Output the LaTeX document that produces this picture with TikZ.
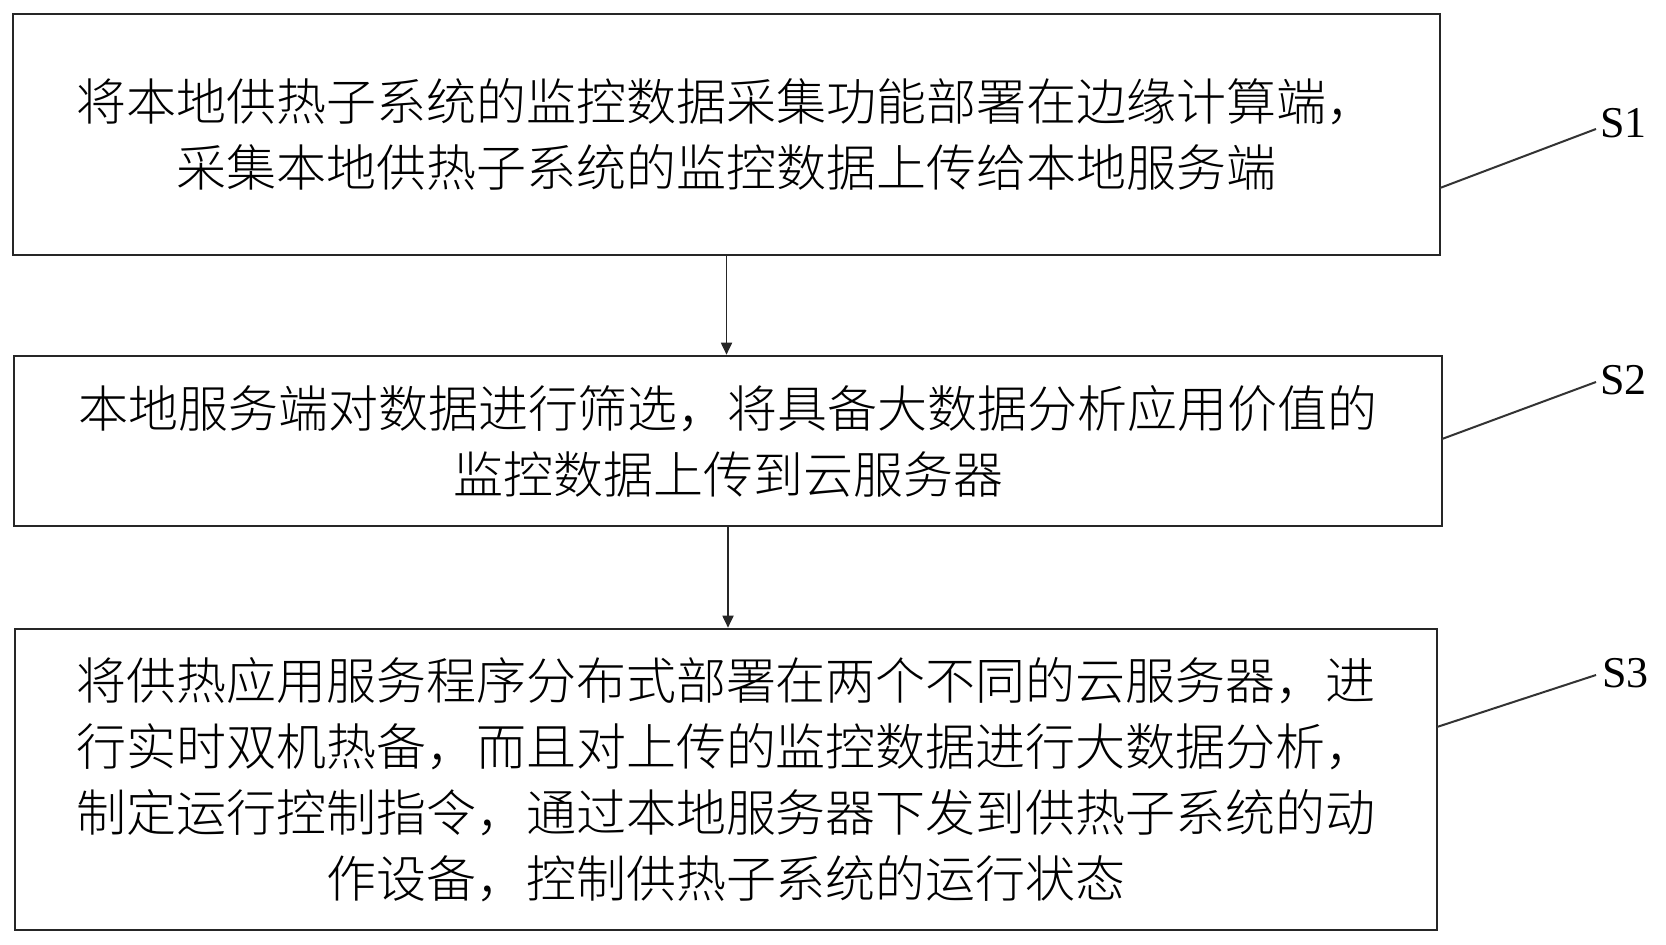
\documentclass[tikz,border=0pt]{standalone}
\usepackage{fontspec}
\setmainfont{Liberation Serif}
\newfontfamily\cjk{Noto Sans CJK SC Light}
\usetikzlibrary{arrows.meta}
\begin{document}
\begin{tikzpicture}[x=0.5pt,y=-0.5pt,
  stepbox/.style={draw=black!85,line width=1.3pt,inner sep=0pt,align=center,
    font=\cjk\fontsize{25}{33}\selectfont},
  leader/.style={draw=black!80,line width=1pt},
  flow/.style={draw=black!85,line width=0.9pt,-{Triangle[length=6pt,width=5.5pt]}},
  slabel/.style={anchor=west,inner sep=0pt,font=\fontsize{22}{24}\selectfont}]
\useasboundingbox[fill=white] (0,0) rectangle (1666,945);
\node[stepbox,minimum width=713.5pt,minimum height=120.5pt] (b1) at (726.5,134.5)
  {将本地供热子系统的监控数据采集功能部署在边缘计算端，\\采集本地供热子系统的监控数据上传给本地服务端};
\node[stepbox,minimum width=714pt,minimum height=85pt] (b2) at (728,441)
  {本地服务端对数据进行筛选，将具备大数据分析应用价值的\\监控数据上传到云服务器};
\node[stepbox,minimum width=711pt,minimum height=150.5pt] (b3) at (726,779.5)
  {将供热应用服务程序分布式部署在两个不同的云服务器，进\\行实时双机热备，而且对上传的监控数据进行大数据分析，\\制定运行控制指令，通过本地服务器下发到供热子系统的动\\作设备，控制供热子系统的运行状态};
\node[slabel] (s1) at (1600,123) {S1};
\node[slabel] (s2) at (1600,380) {S2};
\node[slabel] (s3) at (1602,673) {S3};
\coordinate (c1) at (1440,188);
\coordinate (c2) at (1442,439);
\coordinate (c3) at (1437,727);
\draw[leader] (c1) -- ([xshift=-2pt,yshift=-3pt]s1.west);
\draw[leader] (c2) -- ([xshift=-2pt,yshift=-1pt]s2.west);
\draw[leader] (c3) -- ([xshift=-3pt,yshift=-1pt]s3.west);
\draw[flow] (b1.south) -- (b1.south |- b2.north);
\draw[flow] (b2.south) -- (b2.south |- b3.north);
\end{tikzpicture}
\end{document}
